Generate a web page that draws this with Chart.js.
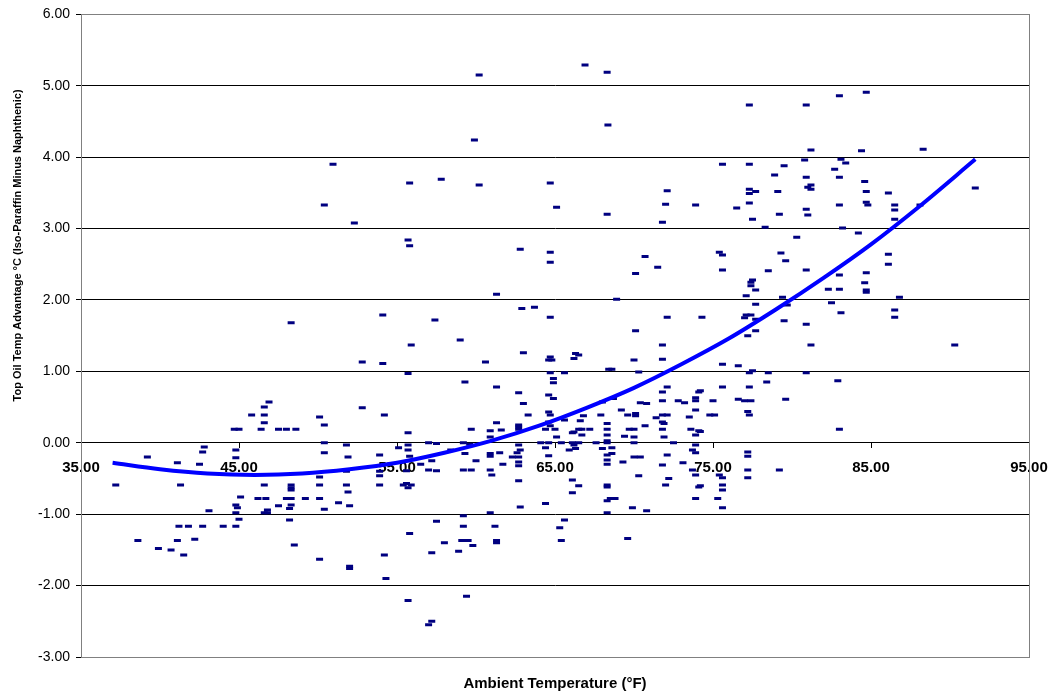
<!DOCTYPE html>
<html>
<head>
<meta charset="utf-8">
<script src="https://cdn.jsdelivr.net/npm/chart.js@4.4.0/dist/chart.umd.min.js"></script>
<style>
  html, body { margin: 0; padding: 0; background: #fff; }
  #wrap { width: 1050px; height: 698px; }
</style>
</head>
<body>
<div id="wrap"><canvas id="chart" width="1050" height="698"></canvas></div>
<script>
// Observations: ambient temperature (°F) and the matching oil temp advantage (°C)
const tempF = [
  50.95, 50.4, 52.3,
  60.2, 66.9, 68.3, 68.35, 59.9,
  55.8, 57.8, 60.2, 64.7, 72.1, 65.1, 72.0, 73.9, 68.3, 71.8,
  55.7, 55.8, 62.8, 64.7, 70.7, 64.7,
  77.3, 80.9, 83.0, 84.7, 81.2, 84.4, 88.3,
  75.6, 77.3, 79.5, 80.8, 83.1, 83.4, 82.7, 78.9, 80.9, 83.0, 84.6,
  77.3, 77.3, 77.7, 79.1, 81.0, 81.2, 81.2, 84.7, 86.1, 91.6,
  77.3, 76.5, 80.9, 83.0, 84.7, 84.8, 86.5, 86.5, 88.1,
  77.5, 79.2, 81.0, 86.5, 78.3, 83.2, 80.3, 84.2,
  75.4, 75.6, 79.3, 86.1, 79.6,
  75.6, 78.5, 80.9, 86.1, 83.0, 84.7,
  77.5, 77.4, 77.4, 77.7, 82.3, 83.0, 84.6, 84.7, 84.7,
  77.1, 79.4, 86.8, 77.7, 82.5, 79.7, 83.1, 86.5, 86.5,
  74.3, 77.0, 77.1, 77.4, 77.7, 79.5, 80.9,
  77.2, 77.7, 81.2, 90.3,
  75.6, 76.6, 77.3, 77.5, 78.5, 80.9, 78.4, 82.9,
  74.2, 75.6, 77.3, 75.0, 76.6, 77.0, 77.4, 79.6,
  77.2, 74.8, 75.1, 77.3, 74.2, 83.0,
  77.2, 77.2, 77.2, 79.2,
  75.4, 75.6, 77.2, 75.6, 75.6, 74.2, 75.3, 75.6,
  48.3, 54.1, 52.8, 54.1,
  46.9, 46.6, 45.8, 46.6, 46.6,
  44.7, 45.0, 46.4, 47.5, 48.0, 48.6,
  50.1, 50.4, 52.8, 54.2,
  50.4, 51.8, 42.8, 42.7, 39.2, 44.8, 44.8, 41.1, 42.5,
  50.4, 51.9, 53.9, 55.1,
  37.2, 41.3, 46.6, 48.3, 48.3, 48.3, 50.1, 50.1, 51.8, 51.8, 53.9, 53.9, 53.9,
  45.1, 46.2, 46.7, 48.0, 48.3, 49.2, 50.1, 51.9,
  44.8, 44.9, 46.8, 47.5, 48.3, 48.2, 51.3, 52.0, 50.4,
  43.1, 44.8, 46.6, 46.8, 45.0, 48.2,
  41.2, 41.8, 42.7, 44.0, 44.8,
  38.6, 41.1, 42.2, 39.9, 40.7, 41.5, 48.5, 50.1, 52.0, 52.0, 54.2, 54.3,
  61.0, 55.6, 55.4, 55.9, 55.7, 62.7, 66.1, 66.5, 68.3, 68.3,
  70.3, 72.2, 72.0, 73.9, 74.1, 66.1, 68.3, 68.5, 68.8, 73.9,
  62.8, 64.4, 69.9, 70.8, 60.9, 68.3, 59.2, 57.5, 65.6,
  55.8, 59.2, 61.2, 65.3, 58.0, 59.1, 59.5, 61.3, 61.3, 65.4, 69.6,
  59.8, 57.2, 58.9, 55.7, 59.4, 57.2, 57.0,
  70.1, 71.5, 61.3, 68.9, 62.9, 63.7, 64.7, 72.1, 57.4, 55.9, 59.0, 70.1,
  60.6, 63.0, 64.6, 64.7, 64.8, 66.2, 66.3, 66.5, 70.0, 71.8, 71.8,
  55.7, 64.7, 65.6, 68.4, 68.6, 70.3, 64.9, 64.9, 59.3, 61.3, 72.1,
  74.1, 71.8, 62.7, 64.6, 64.9, 63.0, 68.0, 68.7, 70.4, 70.8, 71.8, 72.8, 73.2, 73.9, 73.9, 73.9,
  64.6, 63.3, 64.7, 67.9, 66.8, 69.2, 69.6, 70.1, 70.1, 71.4, 71.8, 72.1, 71.8, 71.9, 73.5,
  61.3, 61.6, 62.7, 62.7, 62.7, 64.6, 64.7, 65.0, 64.4, 65.6, 66.6, 66.5, 66.7, 67.2, 68.3, 68.3, 69.7, 70.0, 70.7, 71.8, 73.6, 74.1, 59.7,
  60.9, 60.9, 55.7, 65.1, 66.1, 66.2, 66.7, 68.3, 68.3, 69.4, 70.0, 71.9, 73.9,
  55.7, 57.0, 57.5, 59.2, 59.6, 62.7, 64.1, 64.6, 65.4, 66.1, 66.2, 66.5, 67.6, 68.3, 70.0, 72.5, 73.9,
  55.7, 55.8, 56.5, 57.2, 58.4, 59.3, 60.0, 60.9, 60.9, 61.5, 61.7, 62.3, 62.6, 62.7, 62.7, 62.7, 62.8,
  64.4, 64.6, 65.9, 66.3, 68.0, 68.3, 68.3, 68.3, 68.6, 68.6, 69.3, 70.0, 70.4, 72.1, 71.8, 73.1, 73.7, 73.9, 73.7,
  57.0, 59.2, 59.7, 60.9, 57.5, 55.6
];
const advantageC = [
  3.90, 3.33, 3.08,
  5.15, 5.29, 5.19, 4.45, 4.24,
  3.64, 3.69, 3.61, 3.64, 3.53, 3.30, 3.34, 3.33, 3.20, 3.09,
  2.84, 2.76, 2.71, 2.67, 2.61, 2.53,
  4.73, 4.73, 4.86, 4.91, 4.10, 4.09, 4.11,
  3.90, 3.90, 3.88, 3.96, 3.97, 3.92, 3.83, 3.75, 3.72, 3.72, 3.66,
  3.55, 3.49, 3.52, 3.52, 3.58, 3.61, 3.55, 3.52, 3.50, 3.57,
  3.36, 3.29, 3.27, 3.33, 3.37, 3.33, 3.33, 3.26, 3.33,
  3.13, 3.20, 3.19, 3.13, 3.02, 3.01, 2.88, 2.94,
  2.67, 2.63, 2.66, 2.64, 2.55,
  2.42, 2.41, 2.42, 2.50, 2.35, 2.38,
  2.28, 2.25, 2.20, 2.14, 2.15, 2.15, 2.24, 2.14, 2.11,
  2.06, 2.04, 2.04, 1.94, 1.96, 1.93, 1.82, 1.86, 1.76,
  1.76, 1.75, 1.79, 1.79, 1.73, 1.71, 1.66,
  1.50, 1.57, 1.37, 1.37,
  1.10, 1.08, 0.98, 1.01, 0.98, 0.98, 0.85, 0.87,
  0.73, 0.78, 0.78, 0.59, 0.61, 0.59, 0.59, 0.61,
  0.44, 0.39, 0.39, 0.39, 0.16, 0.19,
  -0.13, -0.19, -0.38, -0.38,
  -0.45, -0.49, -0.49, -0.59, -0.66, -0.60, -0.78, -0.91,
  1.68, 1.79, 1.13, 1.11,
  0.57, 0.50, 0.39, 0.39, 0.28,
  0.19, 0.19, 0.19, 0.19, 0.19, 0.19,
  0.36, 0.25, 0.49, 0.39,
  0.00, -0.03, -0.06, -0.13, -0.20, -0.10, -0.21, -0.28, -0.30,
  -0.14, -0.20, -0.17, -0.07,
  -0.59, -0.59, -0.59, -0.59, -0.63, -0.66, -0.59, -0.48, -0.59, -0.40, -0.59, -0.46, -0.40,
  -0.76, -0.78, -0.78, -0.78, -0.78, -0.78, -0.78, -0.69,
  -0.87, -0.91, -0.94, -0.88, -0.87, -0.92, -0.84, -0.88, -0.93,
  -0.95, -0.98, -0.98, -0.98, -1.07, -1.08,
  -1.17, -1.17, -1.17, -1.17, -1.17,
  -1.37, -1.37, -1.35, -1.48, -1.50, -1.57, -1.43, -1.63, -1.73, -1.76, -1.57, -1.90,
  -0.45, -0.57, -0.59, -0.59, -0.63, -0.53, -0.52, -0.60, -0.59, -0.62,
  -0.46, -0.50, -0.59, -0.45, -0.62, -0.70, -0.81, -0.78, -0.78, -0.78,
  -0.90, -0.85, -0.91, -0.95, -0.98, -0.98, -1.02, -1.10, -1.08,
  -1.27, -1.17, -1.17, -1.19, -1.40, -1.37, -1.37, -1.37, -1.40, -1.37, -1.34,
  -1.44, -1.54, -1.52, -2.21, -2.15, -2.50, -2.55,
  2.37, 2.46, 2.08, 2.01, 1.88, 1.90, 1.76, 1.76, 1.72, 1.37, 1.44, 1.57,
  1.13, 1.26, 1.16, 1.20, 1.16, 1.18, 1.25, 1.23, 1.16, 1.37, 1.17,
  0.97, 0.98, 0.98, 1.03, 1.03, 0.99, 0.90, 0.84, 0.85, 0.78, 0.78,
  0.71, 0.71, 0.70, 0.67, 0.62, 0.55, 0.57, 0.62, 0.56, 0.55, 0.59, 0.59, 0.56, 0.63, 0.59, 0.46,
  0.43, 0.39, 0.39, 0.39, 0.38, 0.46, 0.39, 0.41, 0.38, 0.35, 0.39, 0.39, 0.29, 0.27, 0.36,
  0.28, 0.18, 0.25, 0.22, 0.19, 0.29, 0.24, 0.19, 0.19, 0.32, 0.31, 0.19, 0.19, 0.19, 0.27, 0.19, 0.19, 0.19, 0.24, 0.19, 0.19, 0.17, 0.19,
  0.17, 0.08, 0.14, 0.08, 0.14, 0.15, 0.11, 0.11, 0.03, 0.09, 0.08, 0.08, 0.11,
  -0.03, 0.00, -0.01, 0.00, -0.02, -0.03, 0.00, 0.00, 0.00, 0.00, -0.03, 0.00, 0.00, 0.00, 0.00, 0.00, -0.03,
  -0.10, -0.19, -0.30, -0.25, -0.10, -0.15, -0.25, -0.15, -0.19, -0.14, -0.30, -0.20, -0.14, -0.20, -0.27, -0.32, -0.10,
  -0.07, -0.18, -0.10, -0.08, -0.08, -0.17, -0.24, -0.30, -0.07, -0.15, -0.27, -0.20, -0.20, -0.17, -0.31, -0.28, -0.10, -0.14, -0.38,
  -0.38, -0.38, -0.38, -0.38, -0.39, -0.39
];

// Polynomial trend line
const trendF = [37, 40, 43, 46, 49, 52, 55, 58, 61, 64, 67, 70, 73, 76, 79, 82, 85, 88, 91.6];
const trendC = [-0.28, -0.37, -0.43, -0.45, -0.43, -0.37, -0.28, -0.14, 0.03, 0.24, 0.49, 0.77, 1.10, 1.46, 1.87, 2.31, 2.78, 3.30, 3.97];

const xTicks = [35, 45, 55, 65, 75, 85, 95];
const yTicks = [-3, -2, -1, 0, 1, 2, 3, 4, 5, 6];

const FONT = '"Liberation Sans", Arial, sans-serif';
const Y_TITLE = 'Top Oil Temp Advantage °C (Iso-Paraffin Minus Naphthenic)';

const scatterPoints = tempF.map((x, i) => ({ x: x, y: advantageC[i] }));
const trendPoints = trendF.map((x, i) => ({ x: x, y: trendC[i] }));

// gray frame round the plot area
const plotFrame = {
    id: 'plotFrame',
    afterDraw(chart) {
        const a = chart.chartArea;
        const ctx = chart.ctx;
        ctx.save();
        ctx.strokeStyle = '#808080';
        ctx.lineWidth = 1;
        ctx.strokeRect(Math.round(a.left) + 0.5, Math.round(a.top) + 0.5,
            Math.round(a.right - a.left), Math.round(a.bottom - a.top));
        ctx.restore();
    }
};

// y axis title sits higher than the middle of the axis in the original,
// which the scale title cannot do, so it is drawn here
const yTitle = {
    id: 'yTitle',
    afterDraw(chart) {
        const ctx = chart.ctx;
        const a = chart.chartArea;
        ctx.save();
        ctx.translate(18, a.top + 231);
        ctx.rotate(-Math.PI / 2);
        ctx.font = 'bold 11px ' + FONT;
        ctx.fillStyle = '#000';
        ctx.textAlign = 'center';
        ctx.textBaseline = 'middle';
        ctx.fillText(Y_TITLE, 0, 0);
        ctx.restore();
    }
};

new Chart(document.getElementById('chart').getContext('2d'), {
    type: 'scatter',
    data: {
        datasets: [
            {
                label: 'Advantage',
                data: scatterPoints,
                pointStyle: 'line',
                radius: 3.5,
                borderWidth: 3,
                borderColor: '#000080',
                backgroundColor: '#000080',
                order: 2
            },
            {
                label: 'Trend',
                data: trendPoints,
                showLine: true,
                pointRadius: 0,
                borderColor: '#0000ff',
                borderWidth: 4,
                cubicInterpolationMode: 'monotone',
                order: 1
            }
        ]
    },
    options: {
        responsive: false,
        animation: false,
        layout: { padding: { top: 13, right: 21, left: 0, bottom: 0 } },
        scales: {
            x: {
                type: 'linear',
                min: 35,
                max: 95,
                position: { y: 0 },
                afterBuildTicks: (scale) => { scale.ticks = xTicks.map(v => ({ value: v })); },
                afterFit: (scale) => {
                    // axis sits on y = 0, so it should not take room from the plot
                    scale.height = 0;
                    scale.paddingLeft = 0;
                    scale.paddingRight = 0;
                },
                grid: { drawOnChartArea: false, drawTicks: true, tickLength: 5, color: '#000' },
                border: { display: true, color: '#000', width: 1 },
                ticks: {
                    color: '#000',
                    padding: 11,
                    maxRotation: 0,
                    font: { family: FONT, size: 15, weight: 'bold' },
                    callback: (v) => Number(v).toFixed(2)
                }
            },
            y: {
                type: 'linear',
                min: -3,
                max: 6,
                afterBuildTicks: (scale) => { scale.ticks = yTicks.map(v => ({ value: v })); },
                afterFit: (scale) => { scale.width = 81; },
                grid: { color: '#000', tickLength: 5 },
                border: { display: true, color: '#000', width: 1 },
                ticks: {
                    color: '#000',
                    padding: 6,
                    font: { family: FONT, size: 14 },
                    callback: (v) => Number(v).toFixed(2)
                }
            }
        },
        plugins: {
            legend: { display: false },
            tooltip: { enabled: false },
            title: {
                display: true,
                position: 'bottom',
                fullSize: false,
                text: 'Ambient Temperature (°F)',
                color: '#000',
                padding: { top: 18, bottom: 5 },
                font: { family: FONT, size: 15, weight: 'bold' }
            }
        }
    },
    plugins: [plotFrame, yTitle]
});
</script>
</body>
</html>
